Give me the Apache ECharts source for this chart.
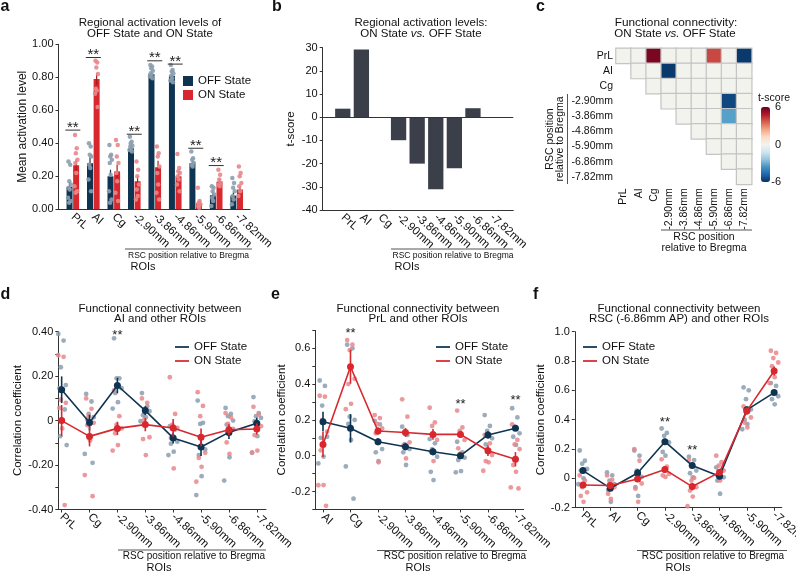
<!DOCTYPE html>
<html><head><meta charset="utf-8">
<script src="https://cdn.jsdelivr.net/npm/echarts@6/dist/echarts.min.js"></script>
<style>html,body{margin:0;padding:0;background:#fff}#c{width:796px;height:573px}</style>
</head><body><div id="c"></div>
<script>
// ---------- DATA ----------
const catsA = ['PrL','AI','Cg','-2.90mm','-3.86mm','-4.86mm','-5.90mm','-6.86mm','-7.82mm'];
const catsD = ['PrL','Cg','-2.90mm','-3.86mm','-4.86mm','-5.90mm','-6.86mm','-7.82mm'];
const catsE = ['AI','Cg','-2.90mm','-3.86mm','-4.86mm','-5.90mm','-6.86mm','-7.82mm'];
const catsF = ['PrL','AI','Cg','-2.90mm','-3.86mm','-4.86mm','-5.90mm','-7.82mm'];

// panel a: mean activation
const aOffMean = [0.137,0.279,0.20,0.37,0.82,0.81,0.28,0.085,0.083];
const aOnMean  = [0.267,0.79,0.23,0.17,0.255,0.20,0.036,0.168,0.12];
const aOffSem  = [0.025,0.035,0.04,0.012,0.01,0.012,0.015,0.015,0.02];
const aOnSem   = [0.035,0.035,0.04,0.03,0.04,0.02,0.015,0.015,0.02];
const aOffPts = [
  [0.29,0.27,0.17,0.15,0.13,0.12,0.07,0.05,0.04],
  [0.40,0.38,0.33,0.32,0.27,0.25,0.18,0.11],
  [0.39,0.33,0.32,0.30,0.28,0.21,0.11,0.06,0.04],
  [0.44,0.41,0.40,0.385,0.38,0.37,0.36,0.35],
  [0.875,0.865,0.855,0.84,0.825,0.815,0.805,0.795],
  [0.875,0.845,0.835,0.825,0.81,0.795,0.78,0.77],
  [0.35,0.31,0.30,0.28,0.27,0.26],
  [0.14,0.13,0.11,0.09,0.07,0.05,0.02],
  [0.19,0.16,0.13,0.11,0.08,0.06,0.03]
];
const aOnPts = [
  [0.45,0.37,0.34,0.30,0.28,0.22,0.14,0.11,0.10],
  [0.90,0.89,0.86,0.82,0.73,0.72,0.70,0.62],
  [0.42,0.39,0.32,0.28,0.22,0.17,0.10,0.05],
  [0.29,0.24,0.20,0.15,0.12,0.08,0.06],
  [0.38,0.34,0.32,0.26,0.22,0.15,0.10,0.06],
  [0.335,0.25,0.23,0.22,0.20,0.18,0.15,0.11],
  [0.13,0.05,0.04,0.03,0.02,0.01],
  [0.24,0.21,0.18,0.16,0.15,0.14],
  [0.26,0.22,0.20,0.16,0.14,0.11,0.08]
];
const sigAIdx = [0,1,3,4,5,6,7];
const sigAH   = [0.48,0.92,0.455,0.90,0.88,0.37,0.265];
const yTicksA = [0,0.2,0.4,0.6,0.8,1.0];

// panel b: t-scores
const tScoreB = [3.7,29.2,0,-9.9,-20,-31,-22,3.9,0];
const yTicksB = [-40,-30,-20,-10,0,10,20,30];

// panel c: functional connectivity t-scores (upper triangle rows, starting at diagonal)
const tRows = [
  [0,0,5.7,0,0,0,4,0,-5.8],
  [0,0,-5.8,0,0,0,0,0],
  [0,0,0,0,0,0,0],
  [0,0,0,0,-5.5,0],
  [0,0,0,-3.3,0],
  [0,0,0,0],
  [0,0,0],
  [0,0],
  [0]
];
const cbTicks = [6,0,-6];

// panel d: AI connectivity
const dOffMean = [0.139,-0.009,0.158,0.045,-0.078,-0.119,-0.053,-0.012];
const dOnMean  = [0.0,-0.071,-0.035,-0.018,-0.033,-0.075,-0.041,-0.038];
const dOffSem  = [0.06,0.035,0.035,0.02,0.025,0.04,0.03,0.025];
const dOnSem   = [0.07,0.045,0.03,0.03,0.04,0.04,0.025,0.025];
const dOffPts = [
  [0.39,0.36,0.24,0.16,0.146,0.14,0.094,0.05,-0.07,-0.11],
  [0.12,0.086,0.03,0.015,0.005,-0.015,-0.15,-0.19],
  [0.37,0.19,0.19,0.146,0.124,0.083,0.054],
  [0.124,0.064,0.05,0.042,0.024,0.015,-0.003],
  [-0.025,-0.04,-0.07,-0.095,-0.104,-0.14,-0.155],
  [0.09,-0.01,-0.015,-0.13,-0.155,-0.25,-0.335],
  [0.057,0.03,0.02,0.0,-0.018,-0.165,-0.27],
  [0.106,0.034,0.02,0.012,-0.003,-0.07,-0.145]
];
const dOnPts = [
  [0.294,0.287,0.094,0.08,0.057,-0.035,-0.255,-0.38],
  [0.10,0.053,0.02,-0.01,-0.02,-0.09,-0.245,-0.34],
  [0.136,0.02,-0.018,-0.035,-0.057,-0.11,-0.135],
  [0.10,0.08,0.005,-0.075,-0.083,-0.155],
  [0.195,0.03,-0.018,-0.033,-0.078,-0.215],
  [0.128,0.066,0.02,-0.145,-0.168,-0.208,-0.275],
  [0.034,0.015,-0.015,-0.037,-0.098,-0.15],
  [0.062,0.027,-0.01,-0.025,-0.065,-0.135,-0.143]
];
const sigDIdx = [2];
const sigDH   = [0.395];
const yTicksD = [-0.4,-0.2,0,0.2,0.4];

// panel e: PrL connectivity
const eOffMean = [0.19,0.153,0.078,0.05,0.022,0.0,0.116,0.153];
const eOnMean  = [0.063,0.497,0.138,0.13,0.119,0.119,0.028,-0.02];
const eOffSem  = [0.055,0.08,0.02,0.02,0.02,0.015,0.02,0.015];
const eOnSem   = [0.07,0.095,0.02,0.025,0.03,0.02,0.03,0.04];
const eOffPts = [
  [0.42,0.39,0.28,0.106,0.10,-0.005,-0.043],
  [0.62,0.60,0.218,0.20,0.177,0.088,-0.06,-0.24],
  [0.195,0.175,0.13,0.037,0.019,-0.03],
  [0.162,0.116,0.065,0.037,0.019,-0.052],
  [0.093,0.069,0.037,-0.006,-0.09,-0.136],
  [0.078,0.019,0.008,-0.011,-0.024,-0.086,-0.093],
  [0.227,0.166,0.138,0.097,0.063,0.022],
  [0.265,0.214,0.162,0.125,0.106,0.06]
];
const eOnPts = [
  [0.335,0.33,0.20,0.134,0.03,-0.164,-0.165,-0.28],
  [0.646,0.62,0.59,0.43,0.40,0.29,0.26],
  [0.227,0.21,0.177,0.153,0.125,-0.037],
  [0.315,0.218,0.134,0.075,0.056,-0.015],
  [0.268,0.186,0.166,0.088,0.022,-0.03],
  [0.252,0.158,0.138,0.088,0.041,0.013],
  [0.116,0.069,0.037,0.004,-0.03,-0.037,-0.084],
  [0.175,0.088,0.063,0.037,-0.052,-0.09,-0.177,-0.183]
];
const sigEIdx = [1,5,7];
const sigEH   = [0.70,0.305,0.324];
const yTicksE = [-0.2,0,0.2,0.4,0.6];

// panel f: RSC (-6.86mm) connectivity
const fOffMean = [0.053,-0.067,0.037,0.25,0.087,0.014,0.467,0.585];
const fOnMean  = [-0.045,-0.049,-0.004,0.06,-0.056,0.041,0.46,0.732];
const fOffSem  = [0.02,0.02,0.025,0.02,0.02,0.02,0.025,0.02];
const fOnSem   = [0.02,0.02,0.02,0.02,0.025,0.02,0.025,0.03];
const fOffPts = [
  [0.19,0.12,0.10,0.064,0.053,0.0,-0.04],
  [0.04,0.02,-0.015,-0.04,-0.08,-0.16],
  [0.19,0.155,0.053,0.01,-0.06,-0.12],
  [0.34,0.31,0.29,0.245,0.18,0.155],
  [0.148,0.125,0.087,0.053,0.035,0.007],
  [0.075,0.053,0.03,0.007,-0.015,-0.105],
  [0.62,0.60,0.54,0.47,0.40,0.37,0.335],
  [0.65,0.63,0.585,0.56,0.54,0.505]
];
const fOnPts = [
  [0.02,-0.015,-0.06,-0.095,-0.12,-0.16],
  [0.02,-0.01,-0.035,-0.06,-0.105,-0.14],
  [0.20,0.12,0.0,-0.035,-0.07,-0.16],
  [0.13,0.08,0.053,0.03,0.02,0.01],
  [0.125,0.003,-0.015,-0.06,-0.083,-0.124,-0.19],
  [0.155,0.11,0.087,0.053,0.02,-0.015],
  [0.49,0.47,0.45,0.415,0.38,0.347],
  [0.87,0.855,0.82,0.79,0.765,0.69,0.65]
];
const sigFIdx = [3,4];
const sigFH   = [0.40,0.21];
const yTicksF = [-0.2,0,0.2,0.4,0.6,0.8,1.0];

// ---------- STYLE ----------
const FONT = '"Liberation Sans", Arial, Helvetica, sans-serif';
const NAVY = '#0f3452', RED = '#d8272d', GPT = '#8b9eae', PPT = '#e8878b', BARB = '#3a3f4a', AX = '#333', TXT = '#111';
const JIT = [-0.6, 0.35, -0.15, 0.75, -0.4, 0.1, -0.85, 0.55, -0.25, 0.9];
const LINEICON = 'path://M0,0L16,0L16,2L0,2Z';

function jitterPts(ptsByCat, base, spread) {
  const out = [];
  ptsByCat.forEach((vals, i) => vals.forEach((v, j) => out.push([i + base + JIT[j % JIT.length] * spread, v])));
  return out;
}
function catXAxis(gi, cats, min, max, ticks) {
  const cv = cats.map((_, i) => i);
  return {
    type: 'value', gridIndex: gi, min: min, max: max,
    axisLine: {show: true, onZero: false, lineStyle: {color: AX, width: 1}},
    axisTick: {show: ticks, customValues: cv, length: 3, lineStyle: {color: AX}},
    axisLabel: {customValues: cv, rotate: -42, margin: 6, fontSize: 11.5, color: TXT, fontFamily: FONT,
                formatter: v => cats[Math.round(v)] || ''},
    splitLine: {show: false}
  };
}
function valYAxis(gi, o) {
  return Object.assign({
    type: 'value', gridIndex: gi,
    axisLine: {show: true, onZero: false, lineStyle: {color: AX, width: 1}},
    axisTick: {show: true, length: 3, lineStyle: {color: AX}},
    splitLine: {show: false},
    nameLocation: 'middle',
    nameTextStyle: {fontSize: 12, color: TXT, fontFamily: FONT}
  }, o);
}
function errSeries(gi, means, sems, color, dxPx, width, z) {
  return {
    type: 'custom', xAxisIndex: gi, yAxisIndex: gi, silent: true, z: z,
    data: means.map((m, i) => [i, m, sems[i]]),
    renderItem: function (params, api) {
      const x = api.value(0), m = api.value(1), e = api.value(2);
      const p1 = api.coord([x, m - e]), p2 = api.coord([x, m + e]);
      return {type: 'line', shape: {x1: p1[0] + dxPx, y1: p1[1], x2: p2[0] + dxPx, y2: p2[1]},
              style: {stroke: color, lineWidth: width}};
    }
  };
}
function starSeries(gi, idx, hs, withBar) {
  return {
    type: 'custom', xAxisIndex: gi, yAxisIndex: gi, silent: true, z: 8,
    data: idx.map((c, k) => [c, hs[k]]),
    renderItem: function (params, api) {
      const p = api.coord([api.value(0), api.value(1)]);
      const kids = [];
      if (withBar) {
        kids.push({type: 'line', shape: {x1: p[0] - 7.5, y1: p[1], x2: p[0] + 7.5, y2: p[1]}, style: {stroke: '#333', lineWidth: 1}});
        kids.push({type: 'text', x: p[0], y: p[1] - 2.5, style: {text: '**', align: 'center', verticalAlign: 'middle', fontSize: 15, fontFamily: FONT, fill: '#222'}});
      } else {
        kids.push({type: 'text', x: p[0], y: p[1] + 3, style: {text: '**', align: 'center', verticalAlign: 'middle', fontSize: 13, fontFamily: FONT, fill: '#222'}});
      }
      return {type: 'group', children: kids};
    }
  };
}

// ---------- AXES ----------
const xAxes = [
  catXAxis(0, catsA, -0.7, 8.65, false),
  catXAxis(1, catsA, -1.08, 9.17, false),
  {type: 'category', gridIndex: 2, data: catsA, axisLine: {show: false}, axisTick: {show: false},
   axisLabel: {interval: 0, rotate: 90, margin: 4, fontSize: 10.5, color: TXT, fontFamily: FONT}, splitLine: {show: false}},
  catXAxis(3, catsD, -0.12, 7.33, true),
  catXAxis(4, catsE, -0.28, 7.3, true),
  catXAxis(5, catsF, -0.3, 7.28, true)
];
const yAxes = [
  valYAxis(0, {min: 0, max: 1, interval: 0.2, name: 'Mean activation level', nameGap: 25,
    axisLabel: {customValues: yTicksA, margin: 5, fontSize: 11, color: TXT, fontFamily: FONT, formatter: v => v.toFixed(2)}}),
  valYAxis(1, {min: -40, max: 30, interval: 10, name: 't-score', nameGap: 26, nameTextStyle: {fontSize: 11.5, color: TXT, fontFamily: FONT},
    axisLabel: {customValues: yTicksB, margin: 5, fontSize: 11, color: TXT, fontFamily: FONT}}),
  {type: 'category', gridIndex: 2, data: catsA, inverse: true, axisLine: {show: false}, axisTick: {show: false},
   axisLabel: {interval: 0, margin: 3, fontSize: 10.5, color: TXT, fontFamily: FONT}, splitLine: {show: false}},
  valYAxis(3, {min: -0.4, max: 0.4, interval: 0.1, name: 'Correlation coefficient', nameGap: 24, nameTextStyle: {fontSize: 11.5, color: TXT, fontFamily: FONT},
    axisLabel: {customValues: yTicksD, margin: 5, fontSize: 11, color: TXT, fontFamily: FONT, formatter: v => Math.abs(v) < 1e-9 ? '0' : v.toFixed(2)}}),
  valYAxis(4, {min: -0.3, max: 0.7, interval: 0.1, name: 'Correlation coefficient', nameGap: 17, nameTextStyle: {fontSize: 11.5, color: TXT, fontFamily: FONT},
    axisLabel: {customValues: yTicksE, margin: 5, fontSize: 11, color: TXT, fontFamily: FONT, formatter: v => (Math.abs(v) < 1e-9 ? 0 : v).toFixed(1)}}),
  valYAxis(5, {min: -0.2, max: 1.0, interval: 0.2, name: 'Correlation coefficient', nameGap: 18, nameTextStyle: {fontSize: 11.5, color: TXT, fontFamily: FONT},
    axisLabel: {customValues: yTicksF, margin: 5, fontSize: 11, color: TXT, fontFamily: FONT, formatter: v => Math.abs(v) < 1e-9 ? '0' : v.toFixed(1)}})
];

// ---------- SERIES ----------
const series = [];
// panel a
series.push({type: 'bar', name: 'OFF State', xAxisIndex: 0, yAxisIndex: 0, barWidth: 6, barGap: '10%', silent: true,
  data: aOffMean.map((v, i) => [i, v]), itemStyle: {color: NAVY}, z: 2});
series.push({type: 'bar', name: 'ON State', xAxisIndex: 0, yAxisIndex: 0, barWidth: 6, barGap: '10%', silent: true,
  data: aOnMean.map((v, i) => [i, v]), itemStyle: {color: RED}, z: 2});
series.push(errSeries(0, aOffMean, aOffSem, NAVY, -3.3, 1.2, 3));
series.push(errSeries(0, aOnMean, aOnSem, '#a51d22', 3.3, 1.2, 3));
series.push({type: 'scatter', name: 'OFF pts a', xAxisIndex: 0, yAxisIndex: 0, silent: true, symbolSize: 4.5, z: 4,
  data: jitterPts(aOffPts, -0.16, 0.09), itemStyle: {color: GPT, opacity: 0.9}});
series.push({type: 'scatter', name: 'ON pts a', xAxisIndex: 0, yAxisIndex: 0, silent: true, symbolSize: 4.5, z: 4,
  data: jitterPts(aOnPts, 0.16, 0.09), itemStyle: {color: PPT, opacity: 0.9}});
series.push(starSeries(0, sigAIdx, sigAH, true));
// panel b
series.push({type: 'bar', name: 't-score', xAxisIndex: 1, yAxisIndex: 1, barWidth: 15.3, silent: true,
  data: tScoreB.map((v, i) => [i, v]), itemStyle: {color: BARB},
  markLine: {silent: true, symbol: ['none', 'none'], label: {show: false}, data: [{yAxis: 0}],
    lineStyle: {color: AX, type: 'solid', width: 1}}});
// panel c
const heatIdx = series.length;
series.push({type: 'heatmap', xAxisIndex: 2, yAxisIndex: 2, silent: true,
  data: tRows.flatMap((row, r) => row.map((v, k) => [r + k, r, v])),
  itemStyle: {borderColor: '#c4c4c4', borderWidth: 1.2}, emphasis: {disabled: true}});
// panels d, e, f
const lowPanels = [
  {gi: 3, off: dOffMean, on: dOnMean, offE: dOffSem, onE: dOnSem, offP: dOffPts, onP: dOnPts, sI: sigDIdx, sH: sigDH},
  {gi: 4, off: eOffMean, on: eOnMean, offE: eOffSem, onE: eOnSem, offP: eOffPts, onP: eOnPts, sI: sigEIdx, sH: sigEH},
  {gi: 5, off: fOffMean, on: fOnMean, offE: fOffSem, onE: fOnSem, offP: fOffPts, onP: fOnPts, sI: sigFIdx, sH: sigFH}
];
lowPanels.forEach(p => {
  series.push({type: 'scatter', name: 'OFF pts', xAxisIndex: p.gi, yAxisIndex: p.gi, silent: true, symbolSize: 4.8, z: 2,
    data: jitterPts(p.offP, 0, 0.2), itemStyle: {color: GPT, opacity: 0.85}});
  series.push({type: 'scatter', name: 'ON pts', xAxisIndex: p.gi, yAxisIndex: p.gi, silent: true, symbolSize: 4.8, z: 2,
    data: jitterPts(p.onP, 0, 0.2), itemStyle: {color: PPT, opacity: 0.85}});
  series.push({type: 'line', name: 'OFF State', xAxisIndex: p.gi, yAxisIndex: p.gi, silent: true, z: 4,
    data: p.off.map((m, i) => [i, m]), symbol: 'circle', symbolSize: 7, showSymbol: true,
    lineStyle: {color: NAVY, width: 1.6}, itemStyle: {color: NAVY}});
  series.push(errSeries(p.gi, p.off, p.offE, NAVY, 0, 1.6, 4));
  series.push({type: 'line', name: 'ON State', xAxisIndex: p.gi, yAxisIndex: p.gi, silent: true, z: 5,
    data: p.on.map((m, i) => [i, m]), symbol: 'circle', symbolSize: 7, showSymbol: true,
    lineStyle: {color: RED, width: 1.6}, itemStyle: {color: RED}});
  series.push(errSeries(p.gi, p.on, p.onE, RED, 0, 1.6, 5));
  series.push(starSeries(p.gi, p.sI, p.sH, false));
});

// ---------- GRAPHIC TEXT ----------
const VM = {left: 761, top: 107, w: 9, h: 75, min: -6, max: 6};
function txt(x, y, text, size, extra) {
  return Object.assign({type: 'text', x: x, y: y, silent: true,
    style: Object.assign({text: text, fontSize: size, fontFamily: FONT, fill: TXT, align: 'center', verticalAlign: 'middle'}, (extra && extra.style) || {})},
    extra && extra.rotation != null ? {rotation: extra.rotation} : {});
}
function hline(x1, x2, y) {
  return {type: 'line', silent: true, shape: {x1: x1, y1: y, x2: x2, y2: y}, style: {stroke: '#555', lineWidth: 1}};
}
function vline(x, y1, y2) {
  return {type: 'line', silent: true, shape: {x1: x, y1: y1, x2: x, y2: y2}, style: {stroke: '#555', lineWidth: 1}};
}
const RICH = {i: {fontStyle: 'italic', fontSize: 11.5, fontFamily: FONT, fill: TXT}, n: {fontSize: 11.5, fontFamily: FONT, fill: TXT}};
const graphics = [
  // panel letters
  txt(0.5, 7, 'a', 16, {style: {fontWeight: 'bold', align: 'left'}}),
  txt(272, 7, 'b', 16, {style: {fontWeight: 'bold', align: 'left'}}),
  txt(536, 7, 'c', 16, {style: {fontWeight: 'bold', align: 'left'}}),
  txt(0.5, 294.5, 'd', 16, {style: {fontWeight: 'bold', align: 'left'}}),
  txt(271, 294.5, 'e', 16, {style: {fontWeight: 'bold', align: 'left'}}),
  txt(533, 294.5, 'f', 16, {style: {fontWeight: 'bold', align: 'left'}}),
  // titles
  txt(150, 23, 'Regional activation levels of', 11.5),
  txt(150, 33.5, 'OFF State and ON State', 11.5),
  txt(421, 23, 'Regional activation levels:', 11.5),
  txt(421, 33.5, '{n|ON State }{i|vs.}{n| OFF State}', 11.5, {style: {rich: RICH}}),
  txt(676, 23, 'Functional connectivity:', 11.8),
  txt(675, 33.5, '{n|ON State }{i|vs.}{n| OFF State}', 11.5, {style: {rich: RICH}}),
  txt(160, 308.5, 'Functional connectivity between', 11.5),
  txt(160, 319, 'AI and other ROIs', 11.5),
  txt(418, 308.5, 'Functional connectivity between', 11.5),
  txt(418, 319, 'PrL and other ROIs', 11.5),
  txt(679, 308.5, 'Functional connectivity between', 11.5),
  txt(679, 319, 'RSC (-6.86mm AP) and other ROIs', 11.5),
  // RSC brackets + ROIs
  hline(125, 252, 249), txt(188.5, 255.5, 'RSC position relative to Bregma', 8.5), txt(143, 267, 'ROIs', 11),
  hline(391, 513, 249), txt(453, 255.5, 'RSC position relative to Bregma', 8.5), txt(407, 267, 'ROIs', 11),
  hline(118, 266, 550), txt(194, 556.5, 'RSC position relative to Bregma', 10), txt(159, 568, 'ROIs', 11),
  hline(377, 527, 550.5), txt(455, 556.5, 'RSC position relative to Bregma', 10), txt(418, 568, 'ROIs', 11),
  hline(637, 787, 550.5), txt(713, 556.5, 'RSC position relative to Bregma', 10), txt(678, 568, 'ROIs', 11),
  // panel c brackets
  vline(567.5, 94, 184),
  txt(550.5, 139, 'RSC position', 10.5, {rotation: Math.PI / 2}),
  txt(560.5, 139, 'relative to Bregma', 10.5, {rotation: Math.PI / 2}),
  hline(661, 752, 230),
  txt(704, 237.5, 'RSC position', 10.5),
  txt(704, 248.5, 'relative to Bregma', 10.5),
  // colorbar labels
  txt(774, 98, 't-score', 10.5)
];
cbTicks.forEach(v => {
  graphics.push(txt(781, VM.top + (VM.max - v) / (VM.max - VM.min) * VM.h, String(v), 11, {style: {align: 'right'}}));
});

// ---------- OPTION ----------
const legendBase = {data: ['OFF State', 'ON State'], orient: 'vertical', padding: 0, itemGap: 2, selectedMode: false,
  textStyle: {fontSize: 11.5, color: TXT, fontFamily: FONT}};
const option = {
  animation: false,
  backgroundColor: '#fff',
  textStyle: {fontFamily: FONT},
  grid: [
    {left: 58.5, top: 44.3, width: 191.5, height: 165, outerBoundsMode: 'none', containLabel: false},
    {left: 322.7, top: 47.7, width: 190.6, height: 162.3, outerBoundsMode: 'none', containLabel: false},
    {left: 616, top: 48.3, width: 135.7, height: 136, outerBoundsMode: 'none', containLabel: false},
    {left: 58.3, top: 331.7, width: 207.7, height: 177.8, outerBoundsMode: 'none', containLabel: false},
    {left: 315.3, top: 330.4, width: 208.4, height: 179, outerBoundsMode: 'none', containLabel: false},
    {left: 574.8, top: 331.7, width: 207, height: 176, outerBoundsMode: 'none', containLabel: false}
  ],
  xAxis: xAxes,
  yAxis: yAxes,
  legend: [
    Object.assign({}, legendBase, {left: 183, top: 75, icon: 'rect', itemWidth: 10, itemHeight: 10}),
    Object.assign({}, legendBase, {left: 175, top: 341, icon: LINEICON, itemWidth: 14, itemHeight: 2}),
    Object.assign({}, legendBase, {left: 436, top: 341, icon: LINEICON, itemWidth: 14, itemHeight: 2}),
    Object.assign({}, legendBase, {left: 583, top: 341, icon: LINEICON, itemWidth: 14, itemHeight: 2})
  ],
  visualMap: {
    type: 'continuous', min: VM.min, max: VM.max, seriesIndex: heatIdx, orient: 'vertical',
    left: VM.left, top: VM.top, itemWidth: VM.w, itemHeight: VM.h, padding: 0, calculable: false,
    showLabel: false, hoverLink: false,
    inRange: {color: ['#053061','#2166ac','#4393c3','#92c5de','#d1e5f0','#f3f3ee','#fddbc7','#f4a582','#d6604d','#b2182b','#67001f']}
  },
  graphic: graphics,
  series: series
};
const chart = echarts.init(document.getElementById('c'), null, {renderer: 'canvas', width: 796, height: 573});
chart.setOption(option);
</script>
</body></html>
